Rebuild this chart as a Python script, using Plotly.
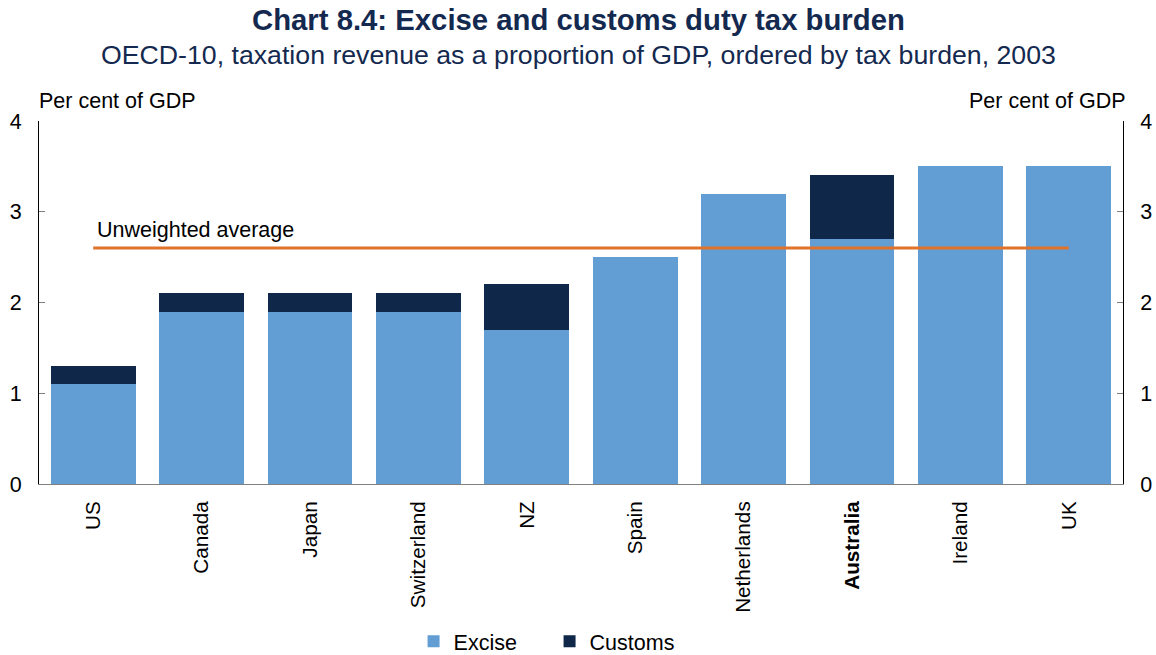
import plotly.graph_objects as go

countries = ["US", "Canada", "Japan", "Switzerland", "NZ", "Spain",
             "Netherlands", "Australia", "Ireland", "UK"]
excise = [1.1, 1.9, 1.9, 1.9, 1.7, 2.5, 3.2, 2.7, 3.5, 3.5]
customs = [0.2, 0.2, 0.2, 0.2, 0.5, 0.0, 0.0, 0.7, 0.0, 0.0]
average = 2.6
tick_labels = ["<b>Australia</b>" if c == "Australia" else c for c in countries]

EXCISE_COL = "#629ED3"
CUSTOMS_COL = "#0F2749"
AVG_COL = "#E0722A"
NAVY = "#14294F"
FONT = "Liberation Sans, Arial, sans-serif"
FS = 21.5

W, H = 1156, 655
ML, MR, MT, MB = 39, 33, 121, 171

fig = go.Figure()
fig.add_trace(go.Bar(x=countries, y=excise, name="Excise",
                     marker=dict(color=EXCISE_COL, line=dict(width=0))))
fig.add_trace(go.Bar(x=countries, y=customs, name="Customs",
                     marker=dict(color=CUSTOMS_COL, line=dict(width=0))))
fig.add_trace(go.Scatter(x=countries, y=[average] * len(countries), mode="lines",
                         line=dict(color=AVG_COL, width=3), showlegend=False,
                         hoverinfo="skip"))
# invisible trace to activate the right-hand axis
fig.add_trace(go.Scatter(x=countries, y=excise, yaxis="y2", mode="lines",
                         line=dict(width=0), opacity=0, showlegend=False,
                         hoverinfo="skip"))

axis_common = dict(range=[0, 4], dtick=1, ticks="inside", ticklen=6,
                   tickcolor="#808080", tickwidth=1, ticklabelstandoff=12,
                   showline=True, linecolor="black", linewidth=1,
                   showgrid=False, zeroline=False, automargin=False,
                   tickfont=dict(size=FS, color="black", family=FONT))

fig.update_layout(
    width=W, height=H,
    margin=dict(l=ML, r=MR, t=MT, b=MB, autoexpand=False),
    paper_bgcolor="white", plot_bgcolor="white",
    barmode="stack", bargap=0.216,
    font=dict(family=FONT, color="black"),
    xaxis=dict(range=[-0.5, len(countries) - 0.5],
               tickangle=-90, tickfont=dict(size=20.7, color="black", family=FONT),
               tickvals=countries, ticktext=tick_labels, ticklabelstandoff=8,
               showline=True, linecolor="#808080", linewidth=1, ticks="",
               showgrid=False, automargin=False),
    yaxis=dict(side="left", **axis_common),
    yaxis2=dict(side="right", overlaying="y", **axis_common),
    legend=dict(orientation="h", x=0.471, xanchor="center", y=-0.433, yanchor="middle",
                font=dict(size=FS, color="black", family=FONT), traceorder="normal",
                itemwidth=30, entrywidth=91, entrywidthmode="pixels"),
    annotations=[
        dict(text="<b>Chart 8.4: Excise and customs duty tax burden</b>",
             x=0.5, y=20, xref="paper", yref="paper", showarrow=False,
             font=dict(size=29.3, color=NAVY, family=FONT)),
        dict(text="OECD-10, taxation revenue as a proportion of GDP, ordered by tax burden, 2003",
             x=0.5, y=0, xref="paper", yref="paper", showarrow=False,
             font=dict(size=26.7, color=NAVY, family=FONT)),
        dict(text="Per cent of GDP", x=38, y=100, xref="paper", yref="paper",
             showarrow=False, xanchor="left", font=dict(size=FS, family=FONT)),
        dict(text="Per cent of GDP", x=1127, y=100, xref="paper", yref="paper",
             showarrow=False, xanchor="right", font=dict(size=FS, family=FONT)),
        dict(text="Unweighted average", x=countries[0], y=average, xref="x", yref="y",
             xanchor="left", yanchor="bottom", xshift=2, yshift=4, showarrow=False,
             font=dict(size=FS, family=FONT)),
    ],
)

# place page-level text in pixel coordinates
pw, ph = W - ML - MR, H - MT - MB
pix = {0: (W / 2, 19), 1: (W / 2, 55), 2: (37, 101), 3: (1128, 101)}
for i, (px, py) in pix.items():
    a = fig.layout.annotations[i]
    a.x = (px - ML) / pw
    a.y = (H - MB - py) / ph
    a.yanchor = "middle"

fig.write_html("out.html")
